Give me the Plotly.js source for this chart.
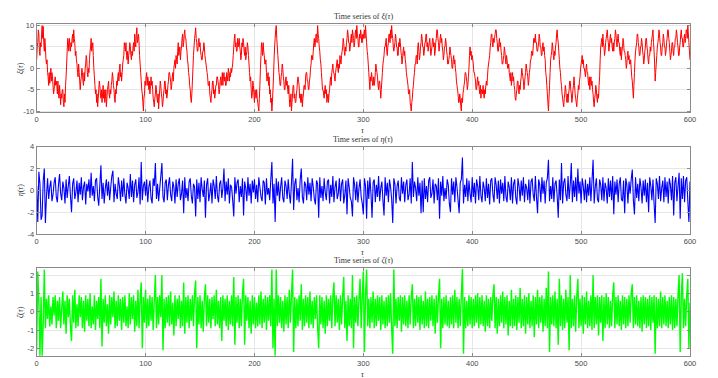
<!DOCTYPE html>
<html>
<head>
<meta charset="utf-8">
<script src="https://cdn.plot.ly/plotly-3.0.1.min.js"></script>
<style>
  html, body { margin: 0; padding: 0; background: #fff; }
  #plot { width: 718px; height: 378px; }
</style>
</head>
<body>
<div id="plot"></div>
<script>
// Time series; tau starts at 0, fixed step per series
const TAU_START = 0;
const XI_STEP = 0.5;
const ETA_STEP = 1;
const ZETA_STEP = 1;

const xiValues = [
  2, 5, 6, 9, 8, 4, 3, 6, 5, 8, 10, 7, 9.8, 6, 4, 7, 5, 2, 1, 2, -1, -2, -4, -1, -3.5, -2, 0, -3, -1, -2, -4, -6, -5, -3, -2, -4, -3, -4, -6, -3,
  -6, -7, -4, -6, -8.5, -6, -7, -5, -5, -8, -9, -6, -8, -4, -2, 1, 4, 7, 6, 4, 7, 5, 4, 6, 5, 7, 8, 6, 9, 7, 6, 3, 4, 2, 1, -1, -2, 1, -1, -3,
  -5, -3, -2, 0, -1, -3, -4, -1, -3, 0, 1, 3, 2, -1, -2, 0, -1, 2, 4, 5, 7, 4, 5, 6, 3, 0, -2, -4, -6, -5, -8, -6, -9, -7, -5, -3, -4, -6, -7, -5,
  -8, -6, -4, -7, -5, -8, -7, -5, -9, -7, -5, -4, -3, -6, -7, -5, -6, -4, -3, -1, -2, -4, -5, -7, -8, -5, -6, -3, -4, -2, -1, -3, 0, 1, -2, -1, -3, -1, 1, 2,
  3, 6, 5, 4, 6, 3, 2, 4, 1, 3, 4, 6, 5, 3, 2, 4, 3, 5, 6, 4, 8, 6, 5, 8, 9.5, 6, 7, 8, 6, 3, 1, -1, -3, -5, -6, -8, -10, -7, -6, -3,
  -4, -2, -1, -4, -2, -3, -5, -3, -6, -4, -2, -4, -3, -5, -7, -8, -9, -7, -6, -4, -5, -7, -8, -6, -9.5, -7, -5, -3, -4, -6, -7, -9, -8, -6, -5, -3, -3, -6, -5, -7,
  -6, -4, -3, -1, -1, -2, -3, -5, -4, -2, -1, -3, 0, 1, 2, 0, 3, 2, 1, 4, 6, 3, 4, 5, 2, 4, 5, 7, 8, 5, 6, 8, 9, 7, 7, 5, 4, 2, 1, -1,
  -2, -4, -5, -7, -8, -6, -3, 0, 3, 5, 7, 8, 9.5, 7, 6, 4, 4, 6, 7, 5, 6, 4, 3, 2, 2, 4, 4, 6, 5, 3, 2, 1, 0, -1, -2, -4, -4, -3, -6, -7,
  -8, -6, -5, -3, -3, -6, -5, -7, -6, -4, -4, -2, -2, -3, -4, -6, -5, -3, -2, -4, -3, -1, -4, -2, -1, -3, -2, -4, -4, -1, -2, -3, 0, -1, -3, -1, -2, 0, -1, 0,
  1, 3, 5, 7, 8, 5, 6, 4, 4, 7, 5, 6, 7, 5, 4, 2, 3, 6, 5, 7, 6, 4, 3, 5, 2, 3, 4, 6, 5, 3, 1, -1, -3, -2, -5, -7, -6, -3, -4, -6,
  -8, -5, -6, -7, -5, -7, -8, -9, -10, -7, -4, 0, 3, 6, 5, 3, 6, 4, 3, 1, 1, 2, -1, -3, -2, -1, -4, -2, -6, -5, -8, -7, -10, -8, -5, -2, 2, 5, 7, 9,
  10, 7, 5, 3, 1, -1, -2, -4, -4, -2, -1, 1, 0, -2, -3, -5, -5, -3, -2, -4, -3, -5, -6, -4, -7, -9, -8, -6, -10, -8, -6, -4, -4, -7, -6, -8, -8, -6, -5, -3,
  -2, -3, -4, -7, -6, -8, -8, -6, -9, -7, -6, -4, -4, -5, -2, -1, -1, -3, -3, -5, -5, -3, -2, 0, 1, 3, 3, 2, 4, 6, 7, 5, 6, 8, 8, 6, 10, 8, 7, 5,
  4, 2, 1, -1, -3, -5, -5, -6, -7, -5, -4, -6, -5, -8, -7, -6, -8, -6, -5, -3, -2, -4, -1, 0, 1, -1, -1, -2, -3, -1, 0, 1, 2, 0, -1, 1, 0, 3, 2, 1,
  3, 4, 5, 7, 6, 4, 3, 5, 4, 6, 7, 9, 8, 6, 6, 4, 5, 7, 8, 6, 9, 8, 7, 5, 6, 8, 9, 7, 10, 8, 7, 5, 5, 8, 7, 9, 8, 6, 6, 8,
  7, 8, 9, 7, 10, 8, 6, 4, 3, 1, -1, -3, -5, -2, -3, -1, -2, -4, -4, -2, -4, -3, -1, 1, 0, -1, -2, -4, -5, -3, -3, -5, -7, -5, -3, -1, 1, 2, 3, 5,
  5, 6, 7, 4, 3, 5, 6, 8, 8, 6, 9, 7, 10, 8, 7, 5, 4, 5, 6, 8, 7, 5, 5, 3, 3, 6, 5, 7, 6, 4, 3, 1, 2, 4, 5, 3, 4, 2, 1, -1,
  -2, -3, -4, -6, -6, -5, -8, -9, -10, -8, -7, -5, -4, -2, -1, 1, 1, 3, 3, 1, 5, 6, 4, 2, 3, 5, 6, 8, 7, 5, 5, 3, 4, 6, 6, 8, 8, 5, 6, 4,
  5, 6, 7, 5, 3, 4, 5, 7, 7, 5, 6, 3, 4, 6, 7, 9, 9, 7, 6, 4, 5, 7, 8, 6, 7, 5, 4, 2, 3, 5, 5, 7, 6, 4, 3, 1, 1, 2, 3, 5,
  4, 3, 2, 0, 0, 2, 3, 1, 2, 0, -1, -3, -4, -5, -6, -8, -8, -6, -7, -9, -10, -7, -8, -6, -5, -4, -3, -1, -1, -2, -3, -5, -4, -2, 0, 3, 5, 3, 4, 2,
  3, 2, 1, -1, -1, -2, -3, -5, -5, -3, -2, -4, -3, -5, -6, -4, -7, -5, -5, -6, -4, -6, -7, -5, -6, -4, -3, -4, -2, 0, 1, 2, 3, 5, 6, 8, 8, 6, 5, 7,
  6, 7, 8, 9, 9, 7, 6, 4, 4, 6, 7, 5, 6, 4, 3, 1, 1, 2, 3, 5, 4, 2, 1, 3, 2, 0, 0, 1, -1, -2, -3, -1, -4, -2, -1, -3, -2, -4, -5, -7,
  -7.5, -6, -5, -3, -3, -5, -6, -4, -5, -3, -2, 0, -1, -2, -3, -5, -4, -2, -1, 1, 0, -1, -2, -4, -3, -1, 0, 2, 2, 4, 4, 3, 5, 7, 7, 6, 8, 6, 6, 4,
  4, 5, 6, 8, 7, 5, 5, 3, 3, 5, 6, 4, 5, 3, 2, -1, -2, -4, -6, -8, -10, -7, -4, -1, 2, 3, 4, 6, 5, 3, 2, 4, 3, 5, 6, 8, 9, 7, 6, 4,
  2, 0, -1, -3, -4, -6, -7, -8, -9, -7, -6, -4, -5, -7, -8, -6, -8, -6, -5, -3, -3, -5, -6, -8, -7, -5, -4, -2, -4, -6, -7, -8, -9, -7, -6, -4, -5, -3, -2, 0,
  1, 2, 3, 1, 2, 0, 0, -1, -2, 0, 1, -1, -1, -3, -4, -2, -5, -3, -2, -4, -3, -5, -6, -8, -9, -7, -6, -4, -5, -7, -8, -6, -7, -4, -2, 2, 5, 6, 7, 5,
  8, 6, 5, 3, 4, 6, 7, 8, 9, 7, 6, 4, 5, 7, 8, 6, 7, 5, 4, 6, 4, 6, 7, 9, 8, 6, 5, 7, 8, 6, 6, 4, 3, 5, 2, 4, 5, 7, 6, 4,
  4, 3, 2, 0, 1, 3, 4, 2, 3, 1, 1, 2, 0, -2, -3, -5, -7, -4, -1, 2, 4, 5, 6, 8, 8, 6, 5, 3, 3, 5, 5, 7, 6, 4, 3, 1, 2, 4, 5, 7,
  7, 5, 4, 2, 1, 3, 3, 5, 4, 6, 7, 8, 9, 6, 4, 1, -3, -1, 1, 3, 5, 6, 7, 9, 8, 6, 5, 3, 3, 5, 6, 8, 7, 5, 5, 3, 4, 6, 7, 9,
  9, 7, 6, 4, 2, 3, 4, 6, 6, 4, 3, 5, 5, 7, 7, 9, 8, 6, 5, 3, 3, 5, 6, 8, 9, 7, 7, 5, 5, 7, 8, 6, 7, 9, 9, 7, 10, 8, 6, 4,
  2
];

const etaValues = [
  0.4, -2.9, 1.7, 0.6, -2.7, -2.3, 0.9, 2.0, -3.0, -0.5, 1.1, -0.8, 0.3, 0.9, -1.0, -0.4, 0.7, 1.2, -0.6, -1.1,
  0.5, 1.5, -0.3, -0.9, 0.8, 0.2, -1.2, 1.0, -0.7, 0.4, 1.3, -0.5, -2.0, 0.6, 1.1, -0.8, -0.2, 0.9, -1.1, 0.7,
  -0.4, 1.2, -0.9, 0.3, 0.8, -1.3, 0.6, -0.1, 1.0, -0.7, 1.6, -0.5, 0.4, -1.0, 0.9, 1.1, -0.6, -1.4, 0.5, 2.3,
  -0.8, 0.7, -1.2, 0.2, 1.0, -0.5, 0.8, -0.9, 0.3, 1.3, 1.8, -1.1, 0.6, -0.3, -0.8, 1.2, 0.4, -1.0, 0.9, -0.6,
  1.1, -0.4, -1.2, 0.7, 0.2, -0.8, 1.5, -0.6, 0.9, -1.1, 0.5, 1.0, -0.7, -0.2, 1.2, -1.3, 2.6, -0.9, 0.4, 0.8,
  -0.5, 1.0, -1.1, 0.3, 0.9, -0.7, -1.2, 1.1, 0.4, 2.5, -0.8, 0.6, -1.0, 0.2, 1.3, 2.5, -0.6, -1.1, 0.7, 1.0,
  -0.9, 0.5, 1.2, -0.4, -1.0, 0.8, 0.3, -1.2, 1.0, -0.6, 0.6, 1.1, -0.9, -0.3, 0.9, -2.1, 1.2, -0.7, 0.2, -1.0,
  0.8, 1.1, -0.5, -1.2, 0.6, 0.3, -2.4, 1.0, -0.8, 0.7, -1.1, 1.2, 0.1, -0.6, 0.9, -2.5, 0.5, 1.1, -1.0, -0.3,
  0.7, -1.2, 1.0, 0.4, -0.8, 1.3, -0.5, -1.1, 0.6, 0.9, -0.7, 0.2, 2.0, -1.0, 0.8, -0.4, 1.1, -1.2, 0.5, 0.3,
  -0.9, -2.4, 1.2, -0.3, 0.7, 1.0, -1.1, 0.4, -0.6, 1.1, -2.3, 0.8, 0.2, -1.0, 1.2, -0.5, 0.6, -1.2, 0.9, -0.2,
  1.0, -0.8, 0.5, -1.1, 1.2, 0.3, -0.6, -1.0, 0.9, 0.7, -1.3, 1.1, -0.4, 0.2, -0.9, 1.0, 2.6, -1.2, 0.6, -2.9,
  1.1, -0.5, 0.8, -1.0, 0.3, 1.2, -0.7, -1.1, 0.9, 0.4, -0.8, 1.0, -0.3, -1.2, 0.7, 2.9, -1.8, 0.6, 1.1, -0.9,
  0.2, -1.1, 1.0, 2.0, -0.6, -1.2, 0.8, 0.5, -0.9, 1.2, -0.4, 0.7, -1.0, 1.1, 0.3, -0.8, -1.3, 0.9, 0.6, -2.5,
  1.2, -0.7, 0.4, -1.0, 1.1, -0.2, -0.9, 0.8, 1.0, -1.2, 0.5, -0.6, 1.3, -1.1, 0.3, 0.9, -0.8, -0.3, 1.1, -1.0,
  0.6, 1.0, -1.2, -0.4, 0.9, -2.2, 1.1, 0.3, -0.7, -1.0, -2.4, 1.2, 0.5, -0.9, 0.8, -1.1, 0.2, 1.0, -0.6, -1.2,
  -2.2, 1.1, 0.4, -2.6, 0.9, -0.8, 1.2, -0.3, -2.5, 0.7, 1.0, -1.1, 0.5, -0.6, 1.3, -1.0, 0.2, 0.8, -0.9, -2.3,
  1.2, -0.5, 0.7, -1.1, 1.0, 0.3, -0.8, -3.0, 1.1, 0.6, -1.2, 0.4, 0.9, -0.7, -1.0, 1.2, -0.3, 0.8, -1.1, 0.5,
  1.0, -0.9, -0.4, 1.1, -1.2, 2.6, -0.6, 0.8, 0.2, -1.0, 1.2, -0.5, 0.7, -2.1, 0.9, -2.0, 1.1, -0.8, 0.4, -1.1,
  0.9, 1.2, -0.7, -0.3, 1.0, -1.2, 0.6, 0.4, -0.9, 1.1, -2.6, 0.8, -0.5, 1.3, -1.0, 0.2, -0.8, 1.0, 0.5, -1.2,
  -2.0, 1.1, -0.4, 0.8, -1.1, 1.2, 0.3, -0.9, -2.1, 0.7, 1.0, 3.0, -1.2, 0.5, -0.6, 1.1, -1.0, 0.9, -0.3, -1.1,
  1.2, -0.6, 0.7, -1.2, 1.0, 0.4, -0.9, 1.3, -0.5, -1.1, 0.8, 0.2, -1.0, 1.1, -0.7, 0.6, -1.3, 0.9, 1.1, -0.4,
  -1.1, 1.2, 0.5, -0.8, 0.9, -1.2, 1.0, -0.3, 0.7, -1.0, 1.3, -0.6, -1.1, 0.8, 0.3, -0.9, 1.2, -1.2, 0.6, 1.0,
  -0.7, -1.3, 1.1, 0.4, -1.0, 0.9, -0.5, 1.2, -1.1, 0.6, 0.2, -0.9, 1.0, -1.2, 0.8, 1.1, -0.4, -1.0, 1.3, -0.6,
  -2.1, 1.0, 0.5, -1.1, 1.2, -0.3, 0.9, -1.2, 0.7, 1.1, 2.8, -1.0, 0.4, -0.8, 1.2, -1.1, 0.6, 0.9, -0.5, -2.5,
  1.0, -0.9, 2.5, -1.2, 0.7, 1.1, -0.4, -1.0, 1.3, -0.8, 0.5, 2.5, -1.1, 0.9, -0.6, 1.2, -1.0, 2.0, -0.3, 0.8,
  -1.2, 1.1, 0.4, -0.9, 1.0, -1.1, 0.6, -0.5, 1.2, -1.0, 0.9, 2.8, -1.2, 0.3, 1.1, -0.8, -1.1, 1.0, 0.5, -0.9,
  1.2, -1.0, 0.7, 0.2, -1.2, 1.1, -0.6, 0.9, -0.9, 1.3, -2.2, 0.8, -0.4, 1.0, -1.1, 0.6, 1.2, -0.8, -1.0, 0.9,
  -2.1, 1.1, 0.5, -1.2, 0.8, -0.3, 1.0, 1.9, -0.9, -2.2, 1.2, -0.7, 0.6, -1.0, 1.1, 0.3, -1.2, 0.9, -0.5, 1.0,
  -1.1, 0.7, -2.0, 1.2, 0.4, -0.9, 1.0, -1.2, -3.0, 1.1, 0.6, -0.8, 1.3, -1.0, 0.2, 0.9, -1.1, 1.2, -0.6, 0.8,
  -1.2, 1.1, 0.5, -0.9, 1.3, -2.3, 0.7, 1.2, -1.0, 0.4, 1.6, -2.6, 1.1, -0.8, 1.3, -1.1, 0.9, 1.2, -1.0, -2.9,
  0.8
];

const zetaValues = [
  -2.1, 2.2, 0.5, -2.4, 0.8, -2.4, -0.6, 2.3, -0.9, 0.7, -0.4, 0.9, -0.8, 0.3, -0.7, 0.8, -0.2, 0.9, -0.9, 0.6,
  -0.5, 0.8, -0.9, 0.2, 1.1, -0.7, 0.6, -1.2, 0.9, -0.3, 0.7, -0.8, -1.6, 0.9, -0.6, 1.2, -0.9, 0.4, -0.8, 0.9,
  -0.3, 0.8, -0.9, 0.6, -1.1, 0.9, -0.5, 0.7, -0.8, 1.0, -0.9, 0.3, -0.7, 0.9, -1.0, 0.6, -0.4, 0.8, -0.9, 1.8,
  -1.9, 0.7, -0.6, 0.9, -0.8, 0.4, -1.2, 0.9, -0.7, 0.8, -0.3, 1.1, -0.9, 0.6, -0.8, 0.9, -0.5, 0.7, -1.0, 0.8,
  -0.6, 0.9, -0.8, 0.3, -0.9, 1.0, -0.7, 0.8, -0.4, 0.9, -1.1, 0.6, -0.8, 1.2, -0.9, 0.7, 1.6, -2.0, 0.8, -0.6,
  1.2, -0.9, 0.7, -0.8, 0.9, -0.5, 0.8, -1.0, 0.6, 2.0, -0.9, 0.8, -0.7, 0.9, -0.3, 2.0, -2.1, 0.7, -0.9, 0.8,
  -0.6, 0.9, -0.8, 1.1, -0.7, 0.5, -1.3, 0.9, -0.8, 0.7, -0.4, 0.9, -0.9, 0.6, -0.8, 1.6, -1.2, 0.8, -0.6, 0.9,
  -0.9, 0.7, -0.5, 0.9, -0.8, 1.0, 1.7, -2.0, 0.8, -0.7, 0.9, -0.9, 0.6, -1.1, 0.8, 1.5, -0.8, 0.9, -0.6, 0.7,
  -0.9, 0.8, -0.4, 0.9, -0.8, 1.2, -0.7, 0.6, -0.9, 0.8, -1.6, 0.9, -0.5, 0.7, -0.8, 0.9, -1.0, 0.6, -0.7, 0.9,
  -0.8, 1.9, -1.8, 0.8, -0.6, 0.9, -0.9, 0.7, -0.8, 1.0, 1.8, -1.8, 0.9, -0.5, 0.8, -0.9, 0.6, -1.2, 0.9, -0.7,
  0.8, -0.9, 0.5, -0.8, 0.9, -0.7, 1.1, -0.9, 0.7, -0.6, 0.9, -1.0, 0.8, -0.5, 0.9, -0.8, 2.3, -2.0, 0.7, -2.4,
  2.3, -0.8, 0.9, -0.6, 0.8, -0.9, 0.6, -1.1, 0.9, -0.7, 0.8, -0.9, 1.2, -0.6, 0.9, 2.3, -2.2, 0.8, -0.9, 0.7,
  -0.8, 0.9, -0.5, 1.5, -1.0, 0.7, -0.8, 0.9, -0.6, 0.8, -0.9, 1.1, -0.7, 0.6, -0.9, 0.8, -0.4, 0.9, -0.8, -2.0,
  0.9, -0.7, 0.8, -0.9, 0.6, -1.2, 0.9, -0.8, 0.7, -0.5, 0.9, -0.9, 0.8, 1.6, -0.8, 0.9, -0.6, 0.7, -1.0, 0.9,
  -0.7, 0.8, 1.9, -0.9, 0.6, -1.6, 0.9, -0.8, 0.7, -0.9, 2.0, -2.0, 0.8, -0.6, 0.9, -0.8, 0.7, 1.8, -0.9, 0.8,
  2.2, -2.2, 0.9, 2.3, -0.8, 0.7, -0.9, 0.8, -0.6, 1.1, -0.9, 0.7, -0.8, 0.9, -0.5, 0.8, -1.0, 0.9, -0.7, 0.6,
  -0.9, 0.8, -0.8, 0.9, -0.6, 1.0, -0.9, -2.3, 2.3, -0.8, 0.7, -0.9, 0.8, -0.5, 0.9, -1.1, 0.8, -0.7, 0.9, -0.8,
  0.6, -0.9, 0.9, -0.7, 0.8, 1.5, -0.9, 0.7, -0.8, 0.9, -0.6, 0.8, -1.0, 0.9, -0.7, 0.6, -0.9, 1.1, -0.8, 0.7,
  -0.9, 0.8, -0.5, 0.9, -0.8, 0.7, -1.2, 0.9, -0.6, 0.8, 1.8, -2.0, 0.7, -0.9, 0.8, -0.7, 0.9, -0.8, 0.6, -0.9,
  0.8, -0.7, 0.9, -0.9, 1.2, -0.6, 0.8, -0.9, 0.7, -0.8, 0.9, 2.35, -2.3, 0.8, -0.9, 0.6, -0.8, 0.9, -0.7, 0.8,
  -0.9, 0.7, -0.8, 0.9, -0.6, 1.0, -0.9, 0.8, -0.7, 0.9, -0.8, 0.6, -1.1, 0.9, -0.8, 0.7, -0.9, 0.8, -0.5, 0.9,
  1.5, -0.9, 0.8, -1.2, 0.7, -0.8, 0.9, -0.6, 1.1, -0.9, 0.8, -0.7, 0.9, -1.3, 0.6, -0.8, 1.2, -0.9, 0.7, -0.8,
  0.9, -1.0, 0.8, -0.6, 1.3, -0.9, 0.7, -0.8, 0.9, -1.2, 0.8, -0.7, 1.0, -0.9, 0.6, -0.8, 0.9, -1.4, 0.8, -0.7,
  1.2, -0.9, 0.8, -0.6, 0.9, -1.1, 0.7, -0.8, 1.3, -0.9, 2.2, -2.2, 0.8, -0.7, 0.9, -0.8, 1.1, -0.9, 0.7, -1.8,
  1.8, -0.8, 0.9, -1.0, 0.7, -0.9, 1.2, -0.6, 0.8, -2.1, 2.0, -0.9, 0.7, -0.8, 0.9, -1.1, 0.8, 1.8, -0.9, 0.7,
  -0.8, 0.9, -1.2, 0.8, -0.7, 1.1, -0.9, 0.6, -0.8, 0.9, -1.0, 2.0, -0.9, 0.8, -0.7, 0.9, -1.3, 0.8, -0.6, 0.9,
  -1.6, 0.8, -0.9, 1.0, -0.7, 0.8, -0.9, 0.6, -0.8, 0.9, 1.6, -0.9, 0.8, -0.7, 0.9, -0.8, 0.6, -1.0, 0.9, -0.7,
  0.8, -0.9, 0.7, -0.8, 0.9, -0.6, 1.0, 1.5, -0.9, 0.8, -0.7, 0.9, -0.8, 0.6, -0.9, 0.8, -1.1, 0.9, -0.7, 0.8,
  -0.9, 0.7, -0.8, 0.9, -1.0, 0.8, -0.6, 0.9, -2.3, 0.8, -0.9, 0.7, -0.8, 1.1, -0.9, 0.8, -0.7, 0.9, -0.8, 0.6,
  -0.9, 0.8, -0.7, 0.9, -1.0, 0.8, -0.9, 0.7, -0.8, 0.9, 2.0, -2.2, 0.8, 2.1, -0.9, 0.7, -0.8, 0.9, 1.8, -2.0,
  0.5
];

const xTicks = [0, 100, 200, 300, 400, 500, 600];
const xiTicks = [-10, -5, 0, 5, 10];
const etaTicks = [-4, -2, 0, 2, 4];
const zetaTicks = [-2, -1, 0, 1, 2];

const AXIS_GREY = '#8a8a8a';
const TICK_FONT = { family: 'Liberation Sans, Arial, sans-serif', size: 7.5, color: '#4a4a4a' };
const SERIF = 'Liberation Serif, Times New Roman, serif';

const X_DOMAIN = [0.0511, 0.961];

function baseAxis() {
    return {
        showline: true,
        mirror: 'ticks',
        linecolor: AXIS_GREY,
        linewidth: 1,
        ticks: 'inside',
        ticklen: 3,
        tickcolor: AXIS_GREY,
        showgrid: true,
        gridcolor: '#e6e6e6',
        gridwidth: 1,
        zeroline: false,
        tickfont: TICK_FONT,
        fixedrange: true,
    };
}

function xAxis(anchor) {
    return {
        ...baseAxis(),
        domain: X_DOMAIN,
        anchor: anchor,
        range: [0, 600],
        tickvals: xTicks,
        ticktext: xTicks.map(String),
    };
}

function yAxis(anchor, domain, range, ticks) {
    return {
        ...baseAxis(),
        domain: domain,
        anchor: anchor,
        range: range,
        tickvals: ticks,
        ticktext: ticks.map(String),
    };
}

const traces = [
    { y: xiValues, x0: TAU_START, dx: XI_STEP, type: 'scatter', mode: 'lines',
      line: { color: '#ff0000', width: 1, simplify: false }, xaxis: 'x', yaxis: 'y', hoverinfo: 'skip' },
    { y: etaValues, x0: TAU_START, dx: ETA_STEP, type: 'scatter', mode: 'lines',
      line: { color: '#0000ff', width: 1.1, simplify: false }, xaxis: 'x2', yaxis: 'y2', hoverinfo: 'skip' },
    { y: zetaValues, x0: TAU_START, dx: ZETA_STEP, type: 'scatter', mode: 'lines',
      line: { color: '#00ff00', width: 1.4, simplify: false }, xaxis: 'x3', yaxis: 'y3', hoverinfo: 'skip' },
];

// panel geometry in paper units (from bottom)
const panels = [
    { dom: [0.7029, 0.9357], name: 'ξ' },
    { dom: [0.3810, 0.6120], name: 'η' },
    { dom: [0.0582, 0.2902], name: 'ζ' },
];

const annotations = [];
const H = 378;
for (let p of panels) {
    // title above panel
    annotations.push({
        text: 'Time series of <i>' + p.name + '</i>(<i>τ</i>)',
        xref: 'paper', yref: 'paper', x: (X_DOMAIN[0] + X_DOMAIN[1]) / 2, y: p.dom[1] + 1 / H,
        xanchor: 'center', yanchor: 'bottom', showarrow: false,
        font: { family: SERIF, size: 8, color: '#333' },
    });
    // x label
    annotations.push({
        text: '<i>τ</i>',
        xref: 'paper', yref: 'paper', x: (X_DOMAIN[0] + X_DOMAIN[1]) / 2, y: p.dom[0] - 12 / H,
        xanchor: 'center', yanchor: 'top', showarrow: false,
        font: { family: SERIF, size: 8, color: '#333' },
    });
    // y label
    annotations.push({
        text: '<i>' + p.name + '</i>(<i>τ</i>)',
        xref: 'paper', yref: 'paper', x: 20 / 718, y: (p.dom[0] + p.dom[1]) / 2,
        xanchor: 'center', yanchor: 'middle', showarrow: false, textangle: -90,
        font: { family: SERIF, size: 8, color: '#333' },
    });
}

const layout = {
    width: 718,
    height: 378,
    margin: { l: 0, r: 0, t: 0, b: 0 },
    paper_bgcolor: '#ffffff',
    plot_bgcolor: '#ffffff',
    showlegend: false,
    xaxis: xAxis('y'),
    yaxis: yAxis('x', panels[0].dom, [-10.3, 10.3], xiTicks),
    xaxis2: xAxis('y2'),
    yaxis2: yAxis('x2', panels[1].dom, [-4, 4], etaTicks),
    xaxis3: xAxis('y3'),
    yaxis3: yAxis('x3', panels[2].dom, [-2.42, 2.37], zetaTicks),
    annotations: annotations,
};

Plotly.newPlot('plot', traces, layout, { displayModeBar: false, staticPlot: true });
</script>
</body>
</html>
